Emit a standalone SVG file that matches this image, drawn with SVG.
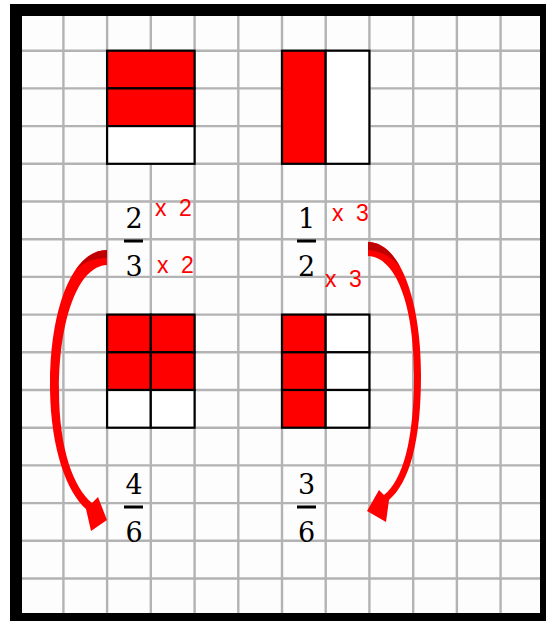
<svg xmlns="http://www.w3.org/2000/svg" width="546" height="621" viewBox="0 0 546 621">
<style>
.grid{stroke:#b3b3b3;stroke-width:2.4;fill:none}
.cellR{fill:#ff0000;stroke:#000;stroke-width:2.2}
.cellW{fill:#ffffff;stroke:#000;stroke-width:2.2}
.num{font-family:"DejaVu Serif","Liberation Serif",serif;font-size:27px;fill:#000;text-anchor:middle}
.bar{fill:#000}
.lab{font-family:"Liberation Sans","DejaVu Sans",sans-serif;font-size:23px;fill:#ff0000;word-spacing:6px}
.arr{fill:#ff0000}
.arrD{fill:#c00000}
</style>
<rect x="0" y="0" width="546" height="621" fill="#ffffff"/>
<rect x="16" y="10" width="530" height="609" fill="#fdfdfd"/>
<g id="grid">
<path class="grid" d="M22 50.7H540M22 88.4H540M22 126.1H540M22 163.8H540M22 201.5H540M22 239.2H540M22 276.9H540M22 314.6H540M22 352.3H540M22 390H540M22 427.7H540M22 465.4H540M22 503.1H540M22 540.8H540M22 578.5H540"/>
<path class="grid" d="M63.4 16V613M107.1 16V613M150.8 16V613M194.6 16V613M238.3 16V613M282 16V613M325.7 16V613M369.4 16V613M413.2 16V613M456.9 16V613M500.6 16V613"/>
</g>
<rect id="frame" x="16" y="10" width="530" height="609" fill="none" stroke="#000" stroke-width="12"/>
<g id="model-2-3">
<rect class="cellR" x="107.1" y="50.7" width="87.5" height="37.7"/>
<rect class="cellR" x="107.1" y="88.4" width="87.5" height="37.7"/>
<rect class="cellW" x="107.1" y="126.1" width="87.5" height="37.7"/>
</g>
<g id="model-1-2">
<rect class="cellR" x="282" y="50.7" width="43.7" height="113.1"/>
<rect class="cellW" x="325.7" y="50.7" width="43.7" height="113.1"/>
</g>
<g id="model-4-6">
<rect class="cellR" x="107.1" y="314.6" width="43.7" height="37.7"/>
<rect class="cellR" x="150.8" y="314.6" width="43.8" height="37.7"/>
<rect class="cellR" x="107.1" y="352.3" width="43.7" height="37.7"/>
<rect class="cellR" x="150.8" y="352.3" width="43.8" height="37.7"/>
<rect class="cellW" x="107.1" y="390" width="43.7" height="37.7"/>
<rect class="cellW" x="150.8" y="390" width="43.8" height="37.7"/>
</g>
<g id="model-3-6">
<rect class="cellR" x="282" y="314.6" width="43.7" height="37.7"/>
<rect class="cellW" x="325.7" y="314.6" width="43.7" height="37.7"/>
<rect class="cellR" x="282" y="352.3" width="43.7" height="37.7"/>
<rect class="cellW" x="325.7" y="352.3" width="43.7" height="37.7"/>
<rect class="cellR" x="282" y="390" width="43.7" height="37.7"/>
<rect class="cellW" x="325.7" y="390" width="43.7" height="37.7"/>
</g>
<g id="frac-2-3">
<text class="num" x="134" y="228">2</text>
<rect class="bar" x="124" y="239.5" width="19" height="3"/>
<text class="num" x="134" y="276">3</text>
</g>
<g id="frac-1-2">
<text class="num" x="306.5" y="228">1</text>
<rect class="bar" x="297" y="239.5" width="19" height="3"/>
<text class="num" x="306.5" y="276">2</text>
</g>
<g id="frac-4-6">
<text class="num" x="134" y="494">4</text>
<rect class="bar" x="124" y="505.5" width="19" height="3"/>
<text class="num" x="134" y="541.5">6</text>
</g>
<g id="frac-3-6">
<text class="num" x="306.5" y="494">3</text>
<rect class="bar" x="297" y="505.5" width="19" height="3"/>
<text class="num" x="306.5" y="541.5">6</text>
</g>
<g id="labels">
<text class="lab" x="155" y="216">x 2</text>
<text class="lab" x="157" y="273">x 2</text>
<text class="lab" x="332" y="220.5">x 3</text>
<text class="lab" x="325" y="286.5">x 3</text>
</g>
<g id="connectors">
<path class="arr" d="M107 250 C72 250 49 310 50 390 C51 450 67 492 86 509 L91 531 L107 520 L98 497 L92 503 C74 488 59 450 59 390 C59 320 78 266 107 265 Z"/>
<path class="arrD" d="M107 250 C94.75 250 84 257.35 75.2 270.3 Q88 258 107 258 Z"/>
<path class="arr" d="M368 242 C400 242 421 300 421 375 C421 440 410 482 389 500 L386 522 L367 511 L379 490 L384 495 C403 480 414 440 414 375 C414 305 396 257 368 256 Z"/>
<path class="arrD" d="M368 242 C380.8 242 391.8 251.3 400.4 267.2 Q388 252 368 250 Z"/>
</g>
</svg>
